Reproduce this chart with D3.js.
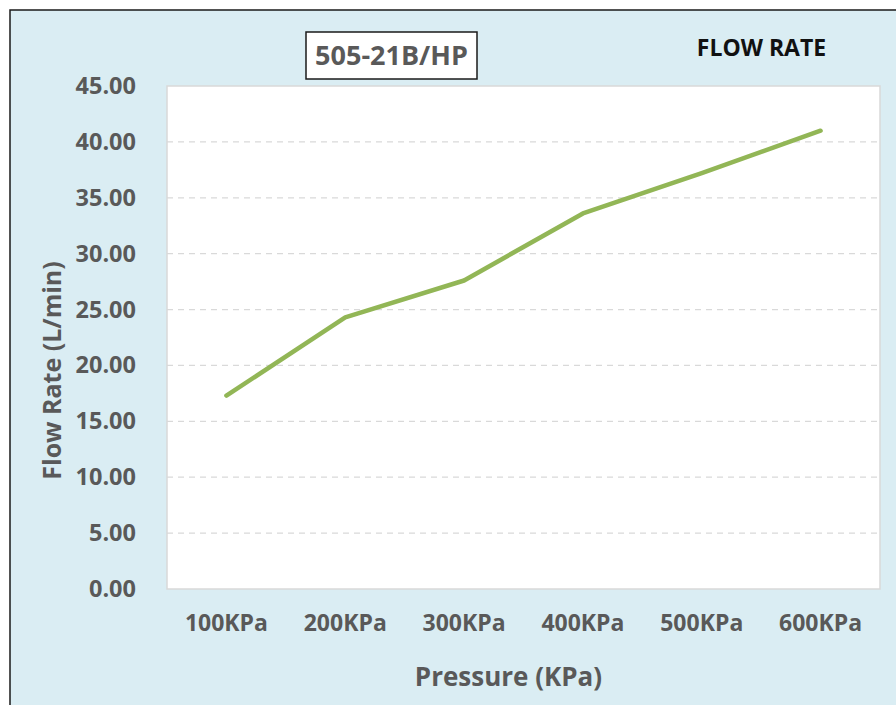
<!DOCTYPE html>
<html>
<head>
<meta charset="utf-8">
<script src="https://cdn.jsdelivr.net/npm/d3@7"></script>
<style>
  html, body { margin: 0; padding: 0; background: #fff; }
  svg { display: block; font-family: "Open Sans", "Noto Sans", sans-serif; }
</style>
</head>
<body>
<svg id="chart" width="896" height="705"></svg>
<script>
// Flow rate of the 505-21B/HP at each test pressure
const pressures = ["100KPa", "200KPa", "300KPa", "400KPa", "500KPa", "600KPa"];
const flowRates = [17.3, 24.3, 27.6, 33.6, 37.2, 41.0];
const yTicks = [0, 5, 10, 15, 20, 25, 30, 35, 40, 45];

const modelName = "505-21B/HP";
const chartTitle = "FLOW RATE";
const xTitle = "Pressure (KPa)";
const yTitle = "Flow Rate (L/min)";

const svg = d3.select("#chart");
const plot = { left: 167, right: 880, top: 86, bottom: 589 };

// chart background with its frame
svg.append("rect")
  .attr("x", 10).attr("y", 10)
  .attr("width", 900).attr("height", 720)
  .attr("fill", "#daedf3")
  .attr("stroke", "#1a1a1a").attr("stroke-width", 1.5);

const x = d3.scaleBand().domain(pressures).range([plot.left, plot.right]);
const y = d3.scaleLinear().domain([0, 45]).range([plot.bottom, plot.top]);

// plot area
svg.append("rect")
  .attr("x", plot.left).attr("y", plot.top)
  .attr("width", plot.right - plot.left).attr("height", plot.bottom - plot.top)
  .attr("fill", "#ffffff")
  .attr("stroke", "#d9d9d9").attr("stroke-width", 1.5);

// dashed horizontal gridlines
svg.append("g")
  .selectAll("line")
  .data(yTicks.filter(v => v > 0 && v < 45))
  .join("line")
  .attr("x1", plot.left).attr("x2", plot.right)
  .attr("y1", d => y(d)).attr("y2", d => y(d))
  .attr("stroke", "#d9d9d9").attr("stroke-width", 1.2)
  .attr("stroke-dasharray", "6,5");

// y axis labels
const yAxis = d3.axisLeft(y).tickValues(yTicks).tickFormat(d3.format(".2f")).tickSize(0).tickPadding(31);
const gy = svg.append("g").attr("transform", `translate(${plot.left},0)`).call(yAxis);
gy.select(".domain").remove();
gy.selectAll("text")
  .attr("fill", "#595959").attr("font-size", 23.5).attr("font-weight", 700)
  .attr("font-family", "'Open Sans', sans-serif");

// x axis labels
const xAxis = d3.axisBottom(x).tickSize(0).tickPadding(26);
const gx = svg.append("g").attr("transform", `translate(0,${plot.bottom})`).call(xAxis);
gx.select(".domain").remove();
gx.selectAll("text")
  .attr("fill", "#595959").attr("font-size", 23).attr("font-weight", 700)
  .attr("font-family", "'Open Sans', sans-serif");

// flow rate line
const line = d3.line()
  .x((d, i) => x(pressures[i]) + x.bandwidth() / 2)
  .y(d => y(d));
svg.append("path")
  .datum(flowRates)
  .attr("d", line)
  .attr("fill", "none")
  .attr("stroke", "#92b656").attr("stroke-width", 4.5)
  .attr("stroke-linecap", "round").attr("stroke-linejoin", "round");

// axis titles
svg.append("text")
  .attr("x", 508.5).attr("y", 686)
  .attr("text-anchor", "middle")
  .attr("fill", "#595959").attr("font-size", 26).attr("font-weight", 700)
  .text(xTitle);

svg.append("text")
  .attr("transform", `translate(61,${(plot.top + plot.bottom) / 2 + 33}) rotate(-90)`)
  .attr("text-anchor", "middle")
  .attr("fill", "#595959").attr("font-size", 25).attr("font-weight", 700)
  .text(yTitle);

// model name in a box
svg.append("rect")
  .attr("x", 306).attr("y", 32).attr("width", 171).attr("height", 47)
  .attr("fill", "#ffffff").attr("stroke", "#1a1a1a").attr("stroke-width", 1.5);
svg.append("text")
  .attr("x", 391.5).attr("y", 65)
  .attr("text-anchor", "middle")
  .attr("fill", "#595959").attr("font-size", 27).attr("font-weight", 700)
  .text(modelName);

// chart title
svg.append("text")
  .attr("x", 761.5).attr("y", 56)
  .attr("text-anchor", "middle")
  .attr("fill", "#111111").attr("font-size", 23).attr("font-weight", 700)
  .text(chartTitle);
</script>
</body>
</html>
